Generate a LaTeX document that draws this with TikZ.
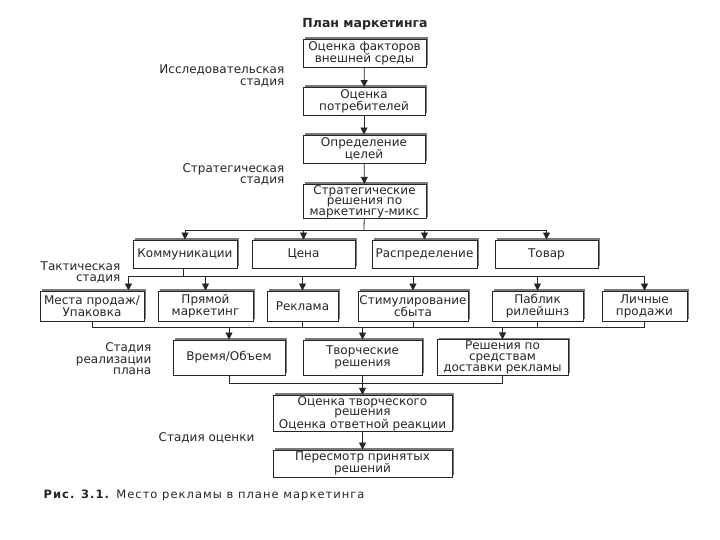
\documentclass[tikz,border=0pt]{standalone}
\usepackage{fontspec}
\setmainfont{DejaVu Sans}
\newfontfamily\capfont[LetterSpace=9]{DejaVu Sans}
\usetikzlibrary{arrows.meta,shadows}
\definecolor{ink}{HTML}{262626}
\definecolor{shade}{HTML}{7A7A7A}
\tikzset{
  blk/.style={draw=ink, line width=0.9pt, fill=white, align=center, text=ink,
    inner sep=1pt, minimum width=#1, minimum height=28pt,
    font=\fontsize{12}{12}\selectfont,
    general shadow={fill=shade, shadow xshift=1.5pt, shadow yshift=2.2pt}},
  blk/.default=104pt,
  stage/.style={align=right, anchor=east, inner sep=0.5pt, text=ink,
    font=\fontsize{12}{11.5}\selectfont},
  link/.style={draw=ink, line width=0.8pt},
  arr/.style={link, -{Triangle[length=7pt,width=7pt]}},
}

\begin{document}
\begin{tikzpicture}[x=1pt,y=-1pt]
\useasboundingbox[fill=white] (0,0) rectangle (720,540);

\node[font=\bfseries\fontsize{12.5}{13}\selectfont, text=ink] (title) at (365,24) {План маркетинга};

% ===== research / strategic column =====
\node[blk=123pt] (fact)  at (364.5,53)  {Оценка факторов\\внешней среды};
\node[blk=122pt] (cons)  at (364,101.5) {Оценка\\потребителей};
\node[blk=122pt] (goal)  at (364,149)   {Определение\\целей};
\node[blk=123pt, minimum height=33pt, font=\fontsize{12}{10.5}\selectfont]
  (strat) at (364.5,201.5) {Стратегические\\решения по\\маркетингу-микс};

\draw[arr] (fact) -- (cons);
\draw[arr] (cons) -- (goal);
\draw[arr] (goal) -- (strat);

% ===== marketing mix =====
\node[blk=104pt] (komm)  at (185,254)   {Коммуникации};
\node[blk=103pt] (price) at (303.5,254) {Цена};
\node[blk=105pt] (dist)  at (424.5,254) {Распределение};
\node[blk=103pt] (prod)  at (546.5,254) {Товар};

\coordinate (bus1) at (364,230);
\draw[link] (strat) -- (bus1);
\draw[link] (bus1 -| komm.north) -- (bus1 -| prod.north);
\foreach \n in {komm,price,dist,prod}
  { \draw[arr] (bus1 -| \n.north) -- (\n.north); }

% ===== tactical stage =====
\node[blk=104pt, minimum height=30pt] (place) at (92,306)    {Места продаж/\\Упаковка};
\node[blk=95pt,  minimum height=30pt] (direct) at (205.5,306) {Прямой\\маркетинг};
\node[blk=71pt,  minimum height=30pt] (adv)   at (302.5,306) {Реклама};
\node[blk=110pt, minimum height=30pt] (promo) at (413,306)   {Стимулирование\\сбыта};
\node[blk=91pt,  minimum height=30pt] (pr)    at (537.5,306) {Паблик\\рилейшнз};
\node[blk=85pt,  minimum height=30pt] (pers)  at (644.5,306) {Личные\\продажи};

\coordinate (bus2) at (183,276);
\coordinate (placein) at ([xshift=-16pt]place.north east);
\draw[link] (komm.south -| bus2) -- (bus2);
\draw[link] (bus2 -| placein) -- (bus2 -| pers.north);
\draw[arr] (bus2 -| placein) -- (placein);
\foreach \n in {direct,adv,promo,pr,pers}
  { \draw[arr] (bus2 -| \n.north) -- (\n.north); }

% ===== implementation stage =====
\node[blk=112pt, minimum height=35pt] (time)  at (229,357.5)   {Время/Объем};
\node[blk=119pt, minimum height=35pt] (creat) at (362.5,357.5) {Творческие\\решения};
\node[blk=131pt, minimum height=35pt, font=\fontsize{12}{11}\selectfont]
  (deliv) at (502.5,357.5) {Решения по\\средствам\\доставки рекламы};

\coordinate (bus3) at (92,327);
\draw[link] (bus3 -| place.south) -- (bus3 -| pers.south);
\foreach \n in {place,adv,promo,pr,pers}
  { \draw[link] (\n.south) -- (bus3 -| \n.south); }
\foreach \n in {time,creat,deliv}
  { \draw[arr] (bus3 -| \n.north) -- (\n.north); }

% ===== evaluation stage =====
\node[blk=179pt, minimum height=33pt, font=\fontsize{12}{10.5}\selectfont]
  (eval) at (362.5,413.5) {Оценка творческого\\решения\\Оценка ответной реакции};
\node[blk=179pt, minimum height=27pt, font=\fontsize{12}{11.5}\selectfont]
  (rev) at (362.5,463.5) {Пересмотр принятых\\решений};

\coordinate (bus4) at (362,383);
\draw[link] (time.south) -- (bus4 -| time.south) -- (bus4 -| deliv.south) -- (deliv.south);
\draw[arr] (creat) -- (eval);
\draw[arr] (eval) -- (rev);

% ===== stage labels =====
\node[stage] (st1) at (285,76)    {Исследовательская\\стадия};
\node[stage] (st2) at (285,174.5) {Стратегическая\\стадия};
\node[stage] (st3) at (121,272.5) {Тактическая\\стадия};
\node[stage] (st4) at (152,359)   {Стадия\\реализации\\плана};
\node[stage, anchor=west] (st5) at (158,438) {Стадия оценки};

\node[anchor=west, inner sep=0.5pt, text=ink, font=\capfont\fontsize{11.5}{12}\selectfont]
  (cap) at (43,495) {\textbf{Рис. 3.1.} Место рекламы в плане маркетинга};

\end{tikzpicture}
\end{document}
